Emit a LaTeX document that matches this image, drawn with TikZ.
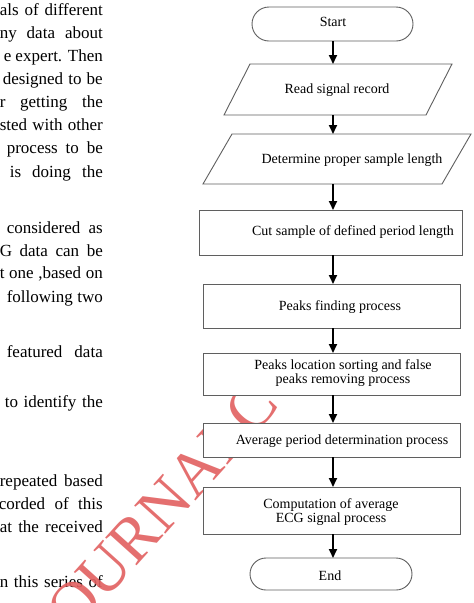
\documentclass[tikz,border=0pt]{standalone}
\usepackage{fontspec}
\setmainfont{Liberation Serif}
\usetikzlibrary{arrows.meta,calc}
\definecolor{boxgray}{RGB}{95,95,95}
\definecolor{wmred}{RGB}{226,96,96}
\begin{document}
\begin{tikzpicture}[x=1pt,y=-1pt,
  box/.style={draw=boxgray, line width=0.9pt, fill=white, inner sep=0pt, outer sep=0pt},
  ghost/.style={draw=none, inner sep=0pt, outer sep=0pt},
  lbl/.style={font=\fontsize{14}{14.5}\selectfont, align=center, inner sep=0pt},
  body/.style={font=\fontsize{17}{20}\selectfont, anchor=base east, inner sep=0pt},
  arr/.style={line width=1.8pt, -{Triangle[width=8pt,length=9pt]}},
  wm/.style={text=wmred, text opacity=0.9, font=\fontsize{64}{64}\selectfont, inner sep=0pt}]
\useasboundingbox (0,0) rectangle (474,603);
\clip (0,0) rectangle (474,603);
\fill[white] (0,0) rectangle (474,603);

% running text of the page (cut at the left)
\node[body] (l1)  at (103,15)  {\makebox[103pt][s]{als of different}};
\node[body] (l2)  at (103,38)  {\makebox[103pt][s]{ny data about}};
\node[body] (l3)  at (103,61)  {\makebox[99pt][s]{e expert. Then}};
\node[body] (l4)  at (103,84)  {\makebox[100pt][s]{designed to be}};
\node[body] (l5)  at (103,107) {\makebox[103pt][s]{r getting the}};
\node[body] (l6)  at (103,130) {\makebox[103pt][s]{sted with other}};
\node[body] (l7)  at (103,153) {\makebox[96pt][s]{process to be}};
\node[body] (l8)  at (103,177) {\makebox[93pt][s]{is doing the}};
\node[body] (l9)  at (103,233) {\makebox[96pt][s]{considered as}};
\node[body] (l10) at (103,256) {\makebox[103pt][s]{G data can be}};
\node[body] (l11) at (103,278) {\makebox[103pt][s]{t one ,based on}};
\node[body] (l12) at (103,302) {\makebox[96pt][s]{following two}};
\node[body] (l13) at (103,357) {\makebox[96pt][s]{featured data}};
\node[body] (l14) at (103,407) {\makebox[98pt][s]{to identify the}};
\node[body] (l15) at (103,486) {\makebox[103pt][s]{repeated based}};
\node[body] (l16) at (103,509) {\makebox[104pt][s]{corded of this}};
\node[body] (l17) at (103,532) {\makebox[103pt][s]{at the received}};
\node[body] (l18) at (103,587) {\makebox[103pt][s]{n this series of}};

% watermark
\node[wm, rotate=48] (wmark) at (162,507) {OURNALC};

% flowchart shapes
\node[box, rounded corners=17pt, minimum width=161pt, minimum height=34pt] (start) at (332.5,24) {};
\node[ghost, minimum width=202pt, minimum height=51pt] (p1) at (338,89.5) {};
\draw[box] ([xshift=13pt]p1.north west) -- ([xshift=13pt]p1.north east)
  -- ([xshift=-13pt]p1.south east) -- ([xshift=-13pt]p1.south west) -- cycle;
\node[ghost, minimum width=239pt, minimum height=50pt] (p2) at (337,159) {};
\draw[box] ([xshift=14.5pt]p2.north west) -- ([xshift=14.5pt]p2.north east)
  -- ([xshift=-14.5pt]p2.south east) -- ([xshift=-14.5pt]p2.south west) -- cycle;
\node[box, minimum width=263pt, minimum height=45pt] (b3) at (330.5,232.5) {};
\node[box, minimum width=257pt, minimum height=44pt] (b4) at (331.5,306) {};
\node[box, minimum width=257pt, minimum height=42pt] (b5) at (331.5,374) {};
\node[box, minimum width=257pt, minimum height=34pt] (b6) at (331.5,440) {};
\node[box, minimum width=257pt, minimum height=47pt] (b7) at (331.5,510.5) {};
\node[box, rounded corners=16pt, minimum width=162pt, minimum height=32pt] (end) at (331,574) {};

% texts
\node[lbl] (t0) at (333,22)  {Start};
\node[lbl] (t1) at (337,90)  {Read signal record};
\node[lbl] (t2) at (352,160) {Determine proper sample length};
\node[lbl] (t3) at (353,232) {Cut sample of defined period length};
\node[lbl] (t4) at (340,307) {Peaks finding process};
\node[lbl] (t5) at (343,373) {Peaks location sorting and false\\peaks removing process};
\node[lbl] (t6) at (342,441) {Average period determination process};
\node[lbl] (t7) at (331,512) {Computation of average\\ECG signal process};
\node[lbl] (t8) at (330,576) {End};

% connectors
\coordinate (ax) at (333,0);
\draw[arr] (start.south -| ax) -- (p1.north -| ax);
\draw[arr] (p1.south -| ax) -- (p2.north -| ax);
\draw[arr] (p2.south -| ax) -- (b3.north -| ax);
\draw[arr] (b3.south -| ax) -- (b4.north -| ax);
\draw[arr] (b4.south -| ax) -- (b5.north -| ax);
\draw[arr] (b5.south -| ax) -- (b6.north -| ax);
\draw[arr] (b6.south -| ax) -- (b7.north -| ax);
\draw[arr] (b7.south -| ax) -- (end.north -| ax);
\end{tikzpicture}
\end{document}
